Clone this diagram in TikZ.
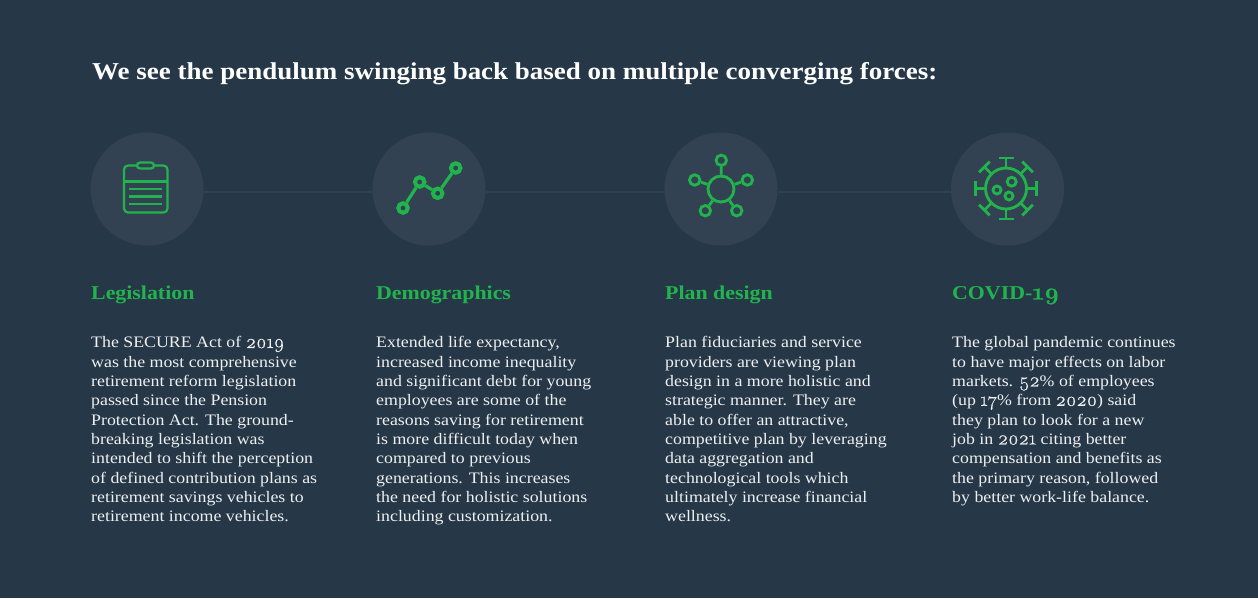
\documentclass[tikz,border=0pt]{standalone}
\usepackage{fontspec}
\usepackage{tikz}
\newfontfamily\bodyfont[FakeStretch=1.115]{Liberation Serif}
\newfontfamily\numfont[Numbers=OldStyle,FakeStretch=1.02,Scale=1.22,FakeBold=0.6]{Latin Modern Roman}
\definecolor{bgblue}{HTML}{263848}
\definecolor{discblue}{HTML}{334253}
\definecolor{railblue}{HTML}{2F4152}
\definecolor{iconGreen}{HTML}{22B44C}
\tikzset{
    disc/.style={circle, fill=discblue, minimum size=113pt, inner sep=0},
    rail/.style={railblue, line width=2pt},
    iconline/.style={iconGreen, line width=2.2pt},
    spike/.style={iconGreen, line width=2.8pt},
    chartdot/.style={circle, draw=iconGreen, line width=4pt, minimum size=9.5pt, inner sep=0},
    netdot/.style={circle, draw=iconGreen, line width=2.8pt, minimum size=#1, inner sep=0},
    heading/.style={anchor=base west, inner sep=0, text=iconGreen, font=\bodyfont\bfseries\fontsize{19.6}{22}\selectfont},
    bodytext/.style={anchor=north west, inner sep=0, align=left, text=white!92!bgblue, font=\bodyfont\fontsize{16}{19.33}\selectfont},
}
\newcommand{\oldnum}[1]{{\numfont #1}}
\begin{document}
\begin{tikzpicture}[x=1pt, y=-1pt]
        \fill[bgblue] (0, 0) rectangle (1258, 598);
        \useasboundingbox (0, 0) rectangle (1258, 598);
        %title
        \node[anchor=base west, inner sep=0, text=white, font=\bodyfont\bfseries\fontsize{24.2}{28}\selectfont] (title) at (92, 79) {We see the pendulum swinging back based on multiple converging forces:};
        %circles behind the icons
        \node[disc] (legisdisc) at (147, 189) {};
        \node[disc] (demodisc) at (429, 189) {};
        \node[disc] (plandisc) at (721, 189) {};
        \node[disc] (coviddisc) at (1007.5, 189) {};
        %rail between the circles
        \draw[rail] ([yshift=-3pt]legisdisc.east) -- ([yshift=-3pt]demodisc.west);
        \draw[rail] ([yshift=-3pt]demodisc.east) -- ([yshift=-3pt]plandisc.west);
        \draw[rail] ([yshift=-3pt]plandisc.east) -- ([yshift=-3pt]coviddisc.west);
        %clipboard icon
        \draw[iconline, rounded corners=4pt] (124, 165.5) rectangle (167.5, 212.5);
        \draw[iconline, fill=discblue, rounded corners=3pt] (137, 162.5) rectangle (154, 168.5);
        \draw[iconline] (124, 181.5) -- (167.5, 181.5);
        \draw[iconline] (129, 188.7) -- (162, 188.7);
        \draw[iconline] (129, 196.5) -- (162, 196.5);
        \draw[iconline] (129, 204.3) -- (162, 204.3);
        %chart icon
        \node[chartdot] (chartone) at (403, 208) {};
        \node[chartdot] (charttwo) at (419.7, 182) {};
        \node[chartdot] (chartthree) at (437.7, 193.3) {};
        \node[chartdot] (chartfour) at (455.7, 168) {};
        \draw[iconGreen, line width=3.2pt] (chartone) -- (charttwo);
        \draw[iconGreen, line width=3.2pt] (charttwo) -- (chartthree);
        \draw[iconGreen, line width=3.2pt] (chartthree) -- (chartfour);
        %network icon
        \node[netdot=26pt] (hub) at (721, 189) {};
        \node[netdot=10.5pt] (nettop) at (721.3, 160.3) {};
        \node[netdot=10.5pt] (netright) at (747.3, 180) {};
        \node[netdot=10.5pt] (netleft) at (694.7, 180) {};
        \node[netdot=10.5pt] (netlow) at (705.3, 210.7) {};
        \node[netdot=10.5pt] (netlower) at (736.7, 210.7) {};
        \draw[spike] (hub) -- (nettop);
        \draw[spike] (hub) -- (netright);
        \draw[spike] (hub) -- (netleft);
        \draw[spike] (hub) -- (netlow);
        \draw[spike] (hub) -- (netlower);
        %virus icon
        \node[netdot=41pt] (virus) at (1006, 188.5) {};
        \foreach \ang in {0, 45, ..., 315} {
            \draw[spike, shift={(virus.center)}, rotate=\ang] (20, 0) -- (30.5, 0) (30.5, -7.5) -- (30.5, 7.5);
        }
        \node[netdot=8pt] (blobone) at (997, 190) {};
        \node[netdot=9pt] (blobtwo) at (1011.7, 181.7) {};
        \node[netdot=8pt] (blobthree) at (1009, 196) {};
        %headings
        \node[heading] (legishead) at (91, 299.5) {Legislation};
        \node[heading] (demohead) at (376, 299.5) {Demographics};
        \node[heading] (planhead) at (665, 299.5) {Plan design};
        \node[heading] (covidhead) at (952, 299.5) {COVID-\oldnum{19}};
        %body text
        \node[bodytext] (legisbody) at (91, 336.5) {The SECURE Act of \oldnum{2019}\\was the most comprehensive\\retirement reform legislation\\passed since the Pension\\Protection Act. The ground-\\breaking legislation was\\intended to shift the perception\\of defined contribution plans as\\retirement savings vehicles to\\retirement income vehicles.};
        \node[bodytext] (demobody) at (376, 336.5) {Extended life expectancy,\\increased income inequality\\and significant debt for young\\employees are some of the\\reasons saving for retirement\\is more difficult today when\\compared to previous\\generations. This increases\\the need for holistic solutions\\including customization.};
        \node[bodytext] (planbody) at (665, 336.5) {Plan fiduciaries and service\\providers are viewing plan\\design in a more holistic and\\strategic manner. They are\\able to offer an attractive,\\competitive plan by leveraging\\data aggregation and\\technological tools which\\ultimately increase financial\\wellness.};
        \node[bodytext] (covidbody) at (952, 336.5) {The global pandemic continues\\to have major effects on labor\\markets. \oldnum{52}\% of employees\\(up \oldnum{17}\% from \oldnum{2020}) said\\they plan to look for a new\\job in \oldnum{2021} citing better\\compensation and benefits as\\the primary reason, followed\\by better work-life balance.};
    \end{tikzpicture}
\end{document}
